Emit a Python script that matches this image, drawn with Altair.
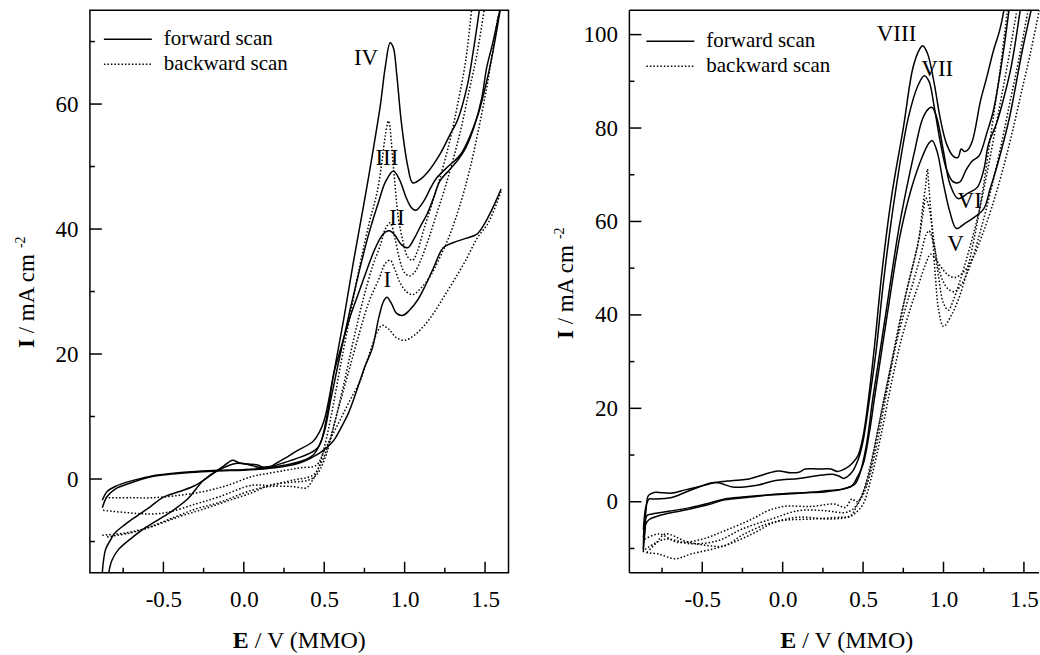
import altair as alt
import pandas as pd

FONT = "Liberation Serif"

# ---------------- Left panel: samples I-IV (E / V, I / mA cm-2) ----------------
L_I_fwd = [(-0.88,-4.6),(-0.85,-2.8),(-0.8,-1.6),(-0.7,-0.6),(-0.57,0.4),(-0.45,0.8),(-0.3,1.1),(-0.16,1.3),(0.0,1.4),(0.12,1.6),(0.25,2.0),(0.35,2.6),(0.42,3.4),(0.48,4.3),(0.56,6.2),(0.6,8.0),(0.65,10.5),(0.7,14.0),(0.75,17.8),(0.8,21.0),(0.84,25.9),(0.87,28.5),(0.89,29.1),(0.92,28.0),(0.95,26.5),(0.99,26.2),(1.03,27.0),(1.08,28.6),(1.13,31.0),(1.18,33.8),(1.24,37.0),(1.3,37.8),(1.38,38.5),(1.45,39.2),(1.5,41.0),(1.55,43.5),(1.6,46.4)]
L_II_fwd = [(-0.88,-3.4),(-0.85,-2.0),(-0.8,-1.2),(-0.7,-0.3),(-0.57,0.5),(-0.45,0.9),(-0.3,1.2),(-0.16,1.4),(0.0,1.5),(0.12,1.7),(0.25,2.2),(0.35,2.8),(0.43,3.8),(0.48,6.0),(0.52,10.5),(0.56,16.9),(0.61,21.5),(0.66,25.9),(0.71,29.5),(0.77,33.8),(0.81,36.5),(0.85,38.6),(0.88,39.5),(0.91,39.7),(0.94,39.0),(0.98,37.5),(1.02,37.0),(1.06,38.5),(1.1,40.5),(1.14,42.4),(1.18,45.0),(1.22,47.7),(1.28,49.5),(1.33,51.0),(1.38,53.0),(1.43,56.2),(1.48,61.0),(1.51,65.8),(1.55,70.0),(1.6,76.0)]
L_III_fwd = [(-0.84,-15.0),(-0.82,-13.0),(-0.78,-11.3),(-0.7,-9.5),(-0.63,-8.1),(-0.53,-6.5),(-0.44,-5.0),(-0.35,-3.2),(-0.25,-0.2),(-0.16,1.4),(-0.05,2.5),(0.03,2.3),(0.09,1.9),(0.16,2.0),(0.25,2.6),(0.33,3.3),(0.4,4.0),(0.46,5.0),(0.5,7.5),(0.54,12.6),(0.6,20.0),(0.66,27.0),(0.72,33.5),(0.78,39.5),(0.84,44.5),(0.88,47.5),(0.93,49.3),(0.97,47.8),(1.01,45.0),(1.04,43.5),(1.07,43.0),(1.12,44.5),(1.16,46.5),(1.2,48.2),(1.27,50.0),(1.35,52.0),(1.45,57.8),(1.5,62.5),(1.55,68.5),(1.6,76.0)]
L_IV_fwd = [(-0.88,-15.0),(-0.86,-11.3),(-0.83,-9.8),(-0.8,-8.6),(-0.74,-7.3),(-0.67,-6.0),(-0.58,-4.4),(-0.5,-2.9),(-0.4,-2.0),(-0.3,-1.0),(-0.19,0.9),(-0.12,2.2),(-0.07,3.0),(-0.03,2.6),(0.03,2.4),(0.09,2.2),(0.14,1.7),(0.2,2.5),(0.26,3.4),(0.33,4.5),(0.43,6.0),(0.47,7.5),(0.5,9.4),(0.56,17.0),(0.62,25.4),(0.68,34.5),(0.75,44.5),(0.8,52.0),(0.85,60.0),(0.88,66.0),(0.91,69.8),(0.93,69.0),(0.95,65.0),(0.98,57.0),(1.02,50.0),(1.05,47.4),(1.1,48.0),(1.14,49.0),(1.22,52.0),(1.28,55.0),(1.33,57.5),(1.39,63.0),(1.43,69.0),(1.47,76.0)]

L_IV_bwd = [(1.42,76.0),(1.38,67.0),(1.33,60.0),(1.28,54.0),(1.22,48.2),(1.17,44.0),(1.12,40.0),(1.08,36.5),(1.05,35.0),(1.02,35.5),(0.99,38.0),(0.96,42.0),(0.93,50.0),(0.9,57.3),(0.88,55.0),(0.86,51.0),(0.83,46.0),(0.78,41.0),(0.72,34.0),(0.66,26.0),(0.6,18.0),(0.55,11.0),(0.5,5.0),(0.46,1.5),(0.42,-0.5),(0.39,-1.4),(0.3,-1.2),(0.16,-1.2),(0.05,-1.8),(-0.16,-3.8),(-0.3,-4.8),(-0.47,-6.5),(-0.6,-7.8),(-0.73,-8.6),(-0.88,-9.0)]
L_III_bwd = [(1.5,76.0),(1.45,68.0),(1.4,62.0),(1.35,56.0),(1.3,51.0),(1.25,46.5),(1.2,42.5),(1.15,38.5),(1.1,35.0),(1.06,33.0),(1.03,32.5),(1.0,33.0),(0.97,35.0),(0.94,38.5),(0.91,41.0),(0.88,40.0),(0.85,37.5),(0.8,34.0),(0.74,28.5),(0.68,22.0),(0.62,15.0),(0.56,8.5),(0.5,3.0),(0.45,0.6),(0.4,-0.2),(0.3,-0.5),(0.16,-1.0),(0.05,-2.2),(-0.1,-3.5),(-0.25,-4.8),(-0.4,-6.0),(-0.57,-7.6),(-0.7,-8.6),(-0.86,-9.3)]
L_II_bwd = [(1.58,74.0),(1.52,64.0),(1.46,56.0),(1.4,49.0),(1.34,43.5),(1.28,39.0),(1.22,35.5),(1.16,32.5),(1.1,30.5),(1.05,29.5),(1.01,30.0),(0.97,31.5),(0.94,33.5),(0.91,35.0),(0.88,34.5),(0.84,32.0),(0.78,28.5),(0.72,23.5),(0.65,17.0),(0.58,10.5),(0.52,5.0),(0.47,2.0),(0.43,0.6),(0.3,-0.2),(0.16,-1.0),(0.05,-1.0),(-0.16,-2.9),(-0.3,-4.0),(-0.47,-5.3),(-0.57,-5.6),(-0.67,-5.5),(-0.88,-5.0)]
L_I_bwd = [(1.6,46.0),(1.52,41.0),(1.45,38.5),(1.38,35.0),(1.3,31.5),(1.24,29.0),(1.18,26.5),(1.12,24.5),(1.06,23.0),(1.0,22.2),(0.95,22.6),(0.9,24.0),(0.86,24.6),(0.83,23.5),(0.78,20.0),(0.72,15.5),(0.66,12.6),(0.6,9.5),(0.55,7.0),(0.5,4.5),(0.45,2.2),(0.35,1.8),(0.26,1.4),(0.15,0.9),(0.05,0.4),(-0.1,-1.0),(-0.25,-2.0),(-0.4,-2.6),(-0.57,-3.0),(-0.7,-3.0),(-0.86,-3.0)]

L_labels = ["IV", "III", "II", "I"]
L_label_E = [0.76, 0.89, 0.952, 0.893]
L_label_I = [67.3, 51.4, 41.7, 31.9]

# ---------------- Right panel: samples V-VIII ----------------
R_VIII_fwd = [(-0.866,-7.6),(-0.85,-2.0),(-0.835,1.3),(-0.8,2.0),(-0.77,2.0),(-0.69,1.85),(-0.6,2.6),(-0.5,3.4),(-0.42,4.1),(-0.32,4.5),(-0.22,4.8),(-0.12,5.8),(-0.03,6.6),(0.05,6.2),(0.1,6.3),(0.14,7.0),(0.22,7.0),(0.3,7.0),(0.34,6.5),(0.4,7.3),(0.44,8.5),(0.47,10.0),(0.5,14.0),(0.53,21.0),(0.57,33.0),(0.62,50.0),(0.68,66.0),(0.75,80.0),(0.81,92.9),(0.85,96.8),(0.87,97.6),(0.9,96.0),(0.94,90.0),(0.98,82.0),(1.02,76.5),(1.06,74.0),(1.09,73.7),(1.11,75.5),(1.13,75.0),(1.15,75.3),(1.18,77.3),(1.23,85.8),(1.27,91.0),(1.31,96.5),(1.35,101.0),(1.38,106.0)]
R_VII_fwd = [(-0.866,-6.0),(-0.85,-1.0),(-0.83,0.6),(-0.81,0.6),(-0.69,0.9),(-0.55,2.8),(-0.42,4.1),(-0.3,3.1),(-0.15,3.6),(-0.05,4.5),(0.1,5.0),(0.2,5.5),(0.31,5.9),(0.35,5.5),(0.38,5.0),(0.43,6.3),(0.47,9.1),(0.5,13.0),(0.54,22.0),(0.58,32.0),(0.63,48.0),(0.7,66.0),(0.78,82.0),(0.84,89.0),(0.88,91.2),(0.91,90.0),(0.94,85.0),(0.98,77.0),(1.02,71.0),(1.06,68.5),(1.1,68.4),(1.14,71.0),(1.18,73.0),(1.22,74.0),(1.27,79.0),(1.31,83.7),(1.37,95.8),(1.41,106.0)]
R_VI_fwd = [(-0.866,-10.0),(-0.855,-6.0),(-0.845,-3.0),(-0.81,-2.6),(-0.7,-2.0),(-0.57,-1.2),(-0.46,-0.3),(-0.36,0.6),(-0.25,1.0),(-0.11,1.4),(0.0,1.6),(0.16,2.0),(0.28,2.4),(0.37,2.7),(0.42,3.2),(0.45,3.8),(0.48,6.0),(0.52,12.0),(0.56,22.0),(0.6,31.0),(0.64,40.0),(0.72,58.0),(0.77,67.0),(0.82,75.0),(0.87,82.0),(0.91,84.2),(0.93,84.4),(0.96,82.0),(1.0,75.0),(1.04,68.0),(1.09,64.9),(1.15,66.0),(1.21,67.3),(1.25,71.0),(1.28,76.6),(1.33,81.0),(1.37,85.8),(1.42,93.0),(1.48,106.0)]
R_V_fwd = [(-0.866,-10.8),(-0.855,-5.1),(-0.83,-3.8),(-0.77,-3.0),(-0.67,-2.2),(-0.57,-1.5),(-0.46,-0.6),(-0.36,0.4),(-0.2,1.0),(-0.05,1.6),(0.1,1.9),(0.26,2.1),(0.36,2.6),(0.43,3.4),(0.46,5.0),(0.5,8.0),(0.54,15.0),(0.57,22.0),(0.61,31.0),(0.65,40.0),(0.73,57.0),(0.8,67.0),(0.87,74.0),(0.91,76.8),(0.93,77.3),(0.96,75.0),(1.0,68.0),(1.04,62.0),(1.08,58.5),(1.13,59.5),(1.18,60.6),(1.25,62.7),(1.29,67.0),(1.33,71.5),(1.41,82.2),(1.49,96.6),(1.55,106.0)]

R_VIII_bwd = [(1.4,106.0),(1.35,92.0),(1.3,80.0),(1.25,68.0),(1.2,58.0),(1.15,50.0),(1.1,44.0),(1.05,40.0),(1.0,37.5),(0.97,41.0),(0.95,48.0),(0.93,58.0),(0.91,67.0),(0.9,71.2),(0.89,68.0),(0.87,63.0),(0.85,57.0),(0.82,52.0),(0.77,45.0),(0.71,35.0),(0.65,24.0),(0.59,13.0),(0.54,5.5),(0.5,1.5),(0.46,0.0),(0.43,0.6),(0.39,-1.2),(0.32,-0.5),(0.18,-1.0),(0.01,-1.0),(-0.09,-1.9),(-0.19,-3.7),(-0.36,-6.2),(-0.5,-8.0),(-0.65,-8.7),(-0.77,-6.9),(-0.855,-8.0)]
R_VII_bwd = [(1.46,106.0),(1.4,94.0),(1.34,83.0),(1.28,72.0),(1.22,62.0),(1.16,54.0),(1.1,47.0),(1.06,43.0),(1.03,41.0),(1.0,42.5),(0.97,48.0),(0.94,56.0),(0.91,63.0),(0.89,65.0),(0.87,61.0),(0.84,55.0),(0.79,48.0),(0.73,39.0),(0.66,27.0),(0.59,15.0),(0.53,5.0),(0.48,0.5),(0.44,-1.5),(0.39,-2.3),(0.26,-1.9),(0.1,-1.9),(-0.07,-3.7),(-0.25,-5.8),(-0.4,-8.3),(-0.57,-9.0),(-0.73,-8.0),(-0.855,-10.2)]
R_VI_bwd = [(1.53,106.0),(1.47,95.0),(1.41,85.0),(1.35,75.0),(1.29,66.0),(1.23,58.0),(1.17,51.0),(1.12,47.0),(1.07,45.0),(1.03,45.5),(1.0,47.0),(0.97,50.0),(0.94,55.0),(0.91,58.0),(0.89,57.0),(0.86,53.0),(0.82,48.0),(0.76,41.0),(0.7,33.0),(0.63,22.0),(0.56,10.0),(0.5,2.0),(0.46,-1.0),(0.42,-3.0),(0.3,-3.7),(0.1,-3.3),(-0.05,-4.4),(-0.19,-6.9),(-0.36,-9.4),(-0.57,-11.2),(-0.67,-12.2),(-0.77,-11.2),(-0.855,-10.9)]
R_V_bwd = [(1.6,106.0),(1.54,96.0),(1.48,87.0),(1.42,78.0),(1.36,70.0),(1.3,63.0),(1.24,57.0),(1.18,52.0),(1.12,49.0),(1.07,48.0),(1.03,48.5),(0.99,50.0),(0.95,52.0),(0.92,53.0),(0.89,51.0),(0.85,47.0),(0.8,42.0),(0.74,35.0),(0.68,26.0),(0.61,14.0),(0.55,5.0),(0.5,-0.5),(0.45,-2.5),(0.41,-3.3),(0.37,-3.3),(0.18,-3.7),(0.0,-4.0),(-0.1,-4.8),(-0.25,-7.1),(-0.36,-9.4),(-0.46,-9.4),(-0.6,-8.5),(-0.73,-6.9),(-0.79,-9.0),(-0.855,-11.2)]

R_labels = ["VIII", "VII", "VI", "V"]
R_label_E = [0.708, 0.961, 1.163, 1.075]
R_label_I = [100.1, 92.7, 64.4, 55.2]

# ---------------- axes ----------------
x_major = [-0.5, 0.0, 0.5, 1.0, 1.5]
x_minor = [-0.75, -0.25, 0.25, 0.75, 1.25]
L_y_major = [0, 20, 40, 60]
L_y_minor = [-10, 10, 30, 50, 70]
R_y_major = [0, 20, 40, 60, 80, 100]
R_y_minor = [-10, 10, 30, 50, 70, 90]

L_xdom = [-0.957, 1.646]
L_ydom = [-15, 75]
R_xdom = [-0.953, 1.600]
R_ydom = [-15.2, 105.2]

legend_texts = ["forward scan", "backward scan"]

LW = 1.5
DASH = [1.5, 2.0]
XT_FS = 24   # x-axis title font size
YT_FS = 23   # y-axis title font size


def curves_df(curves):
    rows = []
    for name, pts in curves:
        for i, (e, c) in enumerate(pts):
            rows.append({"curve": name, "idx": i, "E": e, "I": c})
    return pd.DataFrame(rows)


def panel(fwd, bwd, labels, lab_e, lab_i, xdom, ydom, ymaj, ymin, width, height,
          leg_x0, leg_y0, title_xE, ytitle_y, left_panel):
    xs = alt.Scale(domain=xdom, nice=False, zero=False)
    ys = alt.Scale(domain=ydom, nice=False, zero=False)
    xaxis = alt.Axis(values=x_major, ticks=False, domain=False, grid=False,
                     labelFont=FONT, labelFontSize=23, labelColor="black",
                     labelPadding=16, title=None, labelFlush=False,
                     labelExpr="datum.value < 0 ? '-' + format(-datum.value, '.1f') : format(datum.value, '.1f')")
    yaxis = alt.Axis(values=ymaj, ticks=False, domain=False, grid=False, format="d",
                     labelFont=FONT, labelFontSize=23, labelColor="black",
                     labelPadding=12, title=None, labelFlush=False)
    X = lambda f: alt.X(f, scale=xs, axis=xaxis)
    Y = lambda f: alt.Y(f, scale=ys, axis=yaxis)

    solid = alt.Chart(curves_df(fwd)).mark_line(
        color="black", strokeWidth=LW, clip=True, interpolate="catmull-rom"
    ).encode(x=X("E:Q"), y=Y("I:Q"), detail="curve:N", order="idx:Q")
    dotted = alt.Chart(curves_df(bwd)).mark_line(
        color="black", strokeWidth=LW, clip=True, interpolate="catmull-rom", strokeDash=DASH
    ).encode(x=X("E:Q"), y=Y("I:Q"), detail="curve:N", order="idx:Q")

    xmaj = alt.Chart(pd.DataFrame({"v": x_major})).mark_rule(color="black", strokeWidth=LW).encode(
        x=X("v:Q"), y=alt.value(height), y2=alt.value(height - 11))
    xmin = alt.Chart(pd.DataFrame({"v": x_minor})).mark_rule(color="black", strokeWidth=LW).encode(
        x=X("v:Q"), y=alt.value(height), y2=alt.value(height - 5))
    ymj = alt.Chart(pd.DataFrame({"v": ymaj})).mark_rule(color="black", strokeWidth=LW).encode(
        y=Y("v:Q"), x=alt.value(0), x2=alt.value(12))
    ymn = alt.Chart(pd.DataFrame({"v": ymin})).mark_rule(color="black", strokeWidth=LW).encode(
        y=Y("v:Q"), x=alt.value(0), x2=alt.value(5))

    lab = alt.Chart(pd.DataFrame({"label": labels, "E": lab_e, "I": lab_i})).mark_text(
        font=FONT, fontSize=23, color="black", align="center", baseline="middle"
    ).encode(x=X("E:Q"), y=Y("I:Q"), text="label:N")

    one = pd.DataFrame({"a": [0]})
    leg_solid = alt.Chart(one).mark_rule(color="black", strokeWidth=LW).encode(
        x=alt.value(leg_x0), x2=alt.value(leg_x0 + 48), y=alt.value(leg_y0))
    leg_dot = alt.Chart(one).mark_rule(color="black", strokeWidth=LW, strokeDash=DASH).encode(
        x=alt.value(leg_x0), x2=alt.value(leg_x0 + 48), y=alt.value(leg_y0 + 25))
    leg_t1 = alt.Chart(one).mark_text(text=legend_texts[0], font=FONT, fontSize=21, color="black",
                                      align="left", baseline="middle").encode(
        x=alt.value(leg_x0 + 60), y=alt.value(leg_y0))
    leg_t2 = alt.Chart(one).mark_text(text=legend_texts[1], font=FONT, fontSize=21, color="black",
                                      align="left", baseline="middle").encode(
        x=alt.value(leg_x0 + 60), y=alt.value(leg_y0 + 25))

    # axis titles: bold symbol, then the unit text offset by bold-letter width + a space
    y_gap = (0.389 + 0.25) * YT_FS
    yt1 = alt.Chart(one).mark_text(text="I", font=FONT, fontSize=YT_FS, fontWeight="bold", color="black",
                                   angle=270, align="left", baseline="alphabetic").encode(
        x=alt.value(-56), y=alt.value(ytitle_y))
    yt2 = alt.Chart(one).mark_text(text="/ mA cm", font=FONT, fontSize=YT_FS, color="black",
                                   angle=270, align="left", baseline="alphabetic").encode(
        x=alt.value(-56), y=alt.value(ytitle_y - y_gap))
    yt3 = alt.Chart(one).mark_text(text="-2", font=FONT, fontSize=14, color="black",
                                   angle=270, align="left", baseline="alphabetic").encode(
        x=alt.value(-65), y=alt.value(ytitle_y - 100))
    x_gap = (0.667 + 0.25) * XT_FS
    xt1 = alt.Chart(one).mark_text(text="E", font=FONT, fontSize=XT_FS, fontWeight="bold", color="black",
                                   align="left", baseline="alphabetic").encode(
        x=alt.value(title_xE), y=alt.value(height + 75))
    xt2 = alt.Chart(one).mark_text(text="/ V (MMO)", font=FONT, fontSize=XT_FS, color="black",
                                   align="left", baseline="alphabetic").encode(
        x=alt.value(title_xE + x_gap), y=alt.value(height + 75))

    layers = [dotted, solid, xmaj, xmin, ymj, ymn, lab, leg_solid, leg_dot, leg_t1, leg_t2,
              yt1, yt2, yt3, xt1, xt2]
    if left_panel:
        anc = alt.Chart(one).mark_rule(strokeOpacity=0, strokeWidth=0).encode(
            x=alt.value(-89), x2=alt.value(-88), y=alt.value(-9))
        layers.append(anc)
        return alt.layer(*layers).properties(width=width, height=height)
    # right panel: frame cut off by the page edge -> draw only top, left, bottom sides
    top_b = alt.Chart(one).mark_rule(color="black", strokeWidth=LW).encode(
        x=alt.value(0), x2=alt.value(width - 1), y=alt.value(0))
    left_b = alt.Chart(one).mark_rule(color="black", strokeWidth=LW).encode(
        x=alt.value(0), y=alt.value(0), y2=alt.value(height))
    bot_b = alt.Chart(one).mark_rule(color="black", strokeWidth=LW).encode(
        x=alt.value(0), x2=alt.value(width - 1), y=alt.value(height))
    layers += [top_b, left_b, bot_b]
    return alt.layer(*layers).properties(
        width=width, height=height,
        view=alt.ViewBackground(strokeOpacity=0, strokeWidth=0))


left = panel(
    [("I", L_I_fwd), ("II", L_II_fwd), ("III", L_III_fwd), ("IV", L_IV_fwd)],
    [("I", L_I_bwd), ("II", L_II_bwd), ("III", L_III_bwd), ("IV", L_IV_bwd)],
    L_labels, L_label_E, L_label_I, L_xdom, L_ydom, L_y_major, L_y_minor,
    419, 563, 14, 29, 143, 338, True)
right = panel(
    [("V", R_V_fwd), ("VI", R_VI_fwd), ("VII", R_VII_fwd), ("VIII", R_VIII_fwd)],
    [("V", R_V_bwd), ("VI", R_VI_bwd), ("VII", R_VII_bwd), ("VIII", R_VIII_bwd)],
    R_labels, R_label_E, R_label_I, R_xdom, R_ydom, R_y_major, R_y_minor,
    411, 563, 17, 31, 151, 329, False)

chart = alt.hconcat(left, right, spacing=121, bounds="flush").properties(
    padding={"left": 0, "top": 0, "right": 0, "bottom": 0}
).configure_view(stroke="black", strokeWidth=LW)

chart.save("out.html", embed_options={"renderer": "svg", "actions": False})
